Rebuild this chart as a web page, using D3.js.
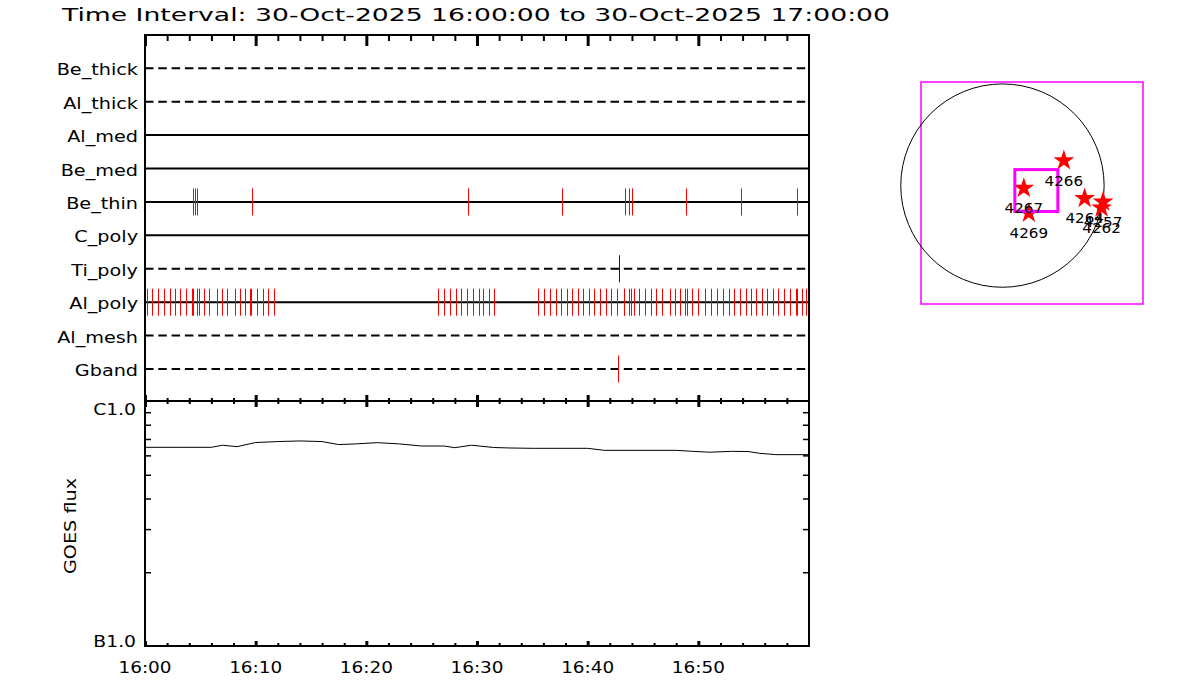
<!DOCTYPE html>
<html>
<head>
<meta charset="utf-8">
<script src="https://d3js.org/d3.v7.min.js"></script>
<style>
  body { margin: 0; background: #fff; }
  text { font-family: "DejaVu Sans", sans-serif; fill: #000; }
</style>
</head>
<body>
<div class="wrapper"></div>
<script>
// ---- data ----
var title = "Time Interval: 30-Oct-2025 16:00:00 to 30-Oct-2025 17:00:00";

var rows = ["Be_thick", "Al_thick", "Al_med", "Be_med", "Be_thin",
            "C_poly", "Ti_poly", "Al_poly", "Al_mesh", "Gband"];
var dashedRows = ["Be_thick", "Al_thick", "Ti_poly", "Al_mesh", "Gband"];

// event times in minutes after 16:00
var beThinTimes = [4.36, 4.54, 4.72, 9.69, 29.2, 37.7, 43.39, 43.75, 44.02, 48.9, 53.87, 58.93];
var tiPolyTimes = [42.85];
var gbandTimes = [42.76];
var alPolyTimes = [0.21, 0.66, 1.20, 1.72, 2.23, 2.74, 3.19, 3.73, 4.22, 4.34, 4.67, 4.91,
                   5.36, 5.81, 6.53, 6.98, 7.44, 8.16, 8.61, 9.06, 9.52, 9.61, 10.15, 10.64,
                   11.14, 11.68,
                   26.50, 27.02, 27.59, 28.13, 28.58, 29.12, 29.67, 30.14, 30.57, 31.08, 31.56,
                   35.54, 36.08, 36.62, 37.17, 37.62, 38.16, 38.61, 39.15, 39.61, 40.09, 40.60,
                   41.14, 41.63, 42.14, 42.62, 43.26, 43.31, 43.76, 43.92, 44.21, 44.67, 45.21,
                   45.75, 46.20, 46.74, 47.47, 47.92, 48.37, 48.82, 48.95, 49.45, 49.99, 50.63,
                   51.17, 51.71, 52.26, 52.80, 53.25, 53.79, 54.33, 54.79, 55.24, 55.78, 56.23,
                   56.77, 57.23, 57.77, 58.31, 58.80, 58.89, 59.34, 59.76];

// GOES flux (W/m^2)
var goesMinutes = [0, 3, 6, 7, 8.3, 10, 12, 14, 16, 17.5, 19, 21, 23, 25, 27, 28, 29.5,
                   31.5, 33, 35, 40, 41.5, 48, 49.5, 51, 53, 54.5, 55.5, 57, 60];
var goesFlux = [6.47e-7, 6.47e-7, 6.47e-7, 6.60e-7, 6.51e-7, 6.77e-7, 6.83e-7, 6.87e-7,
                6.83e-7, 6.64e-7, 6.68e-7, 6.76e-7, 6.68e-7, 6.55e-7, 6.55e-7, 6.45e-7,
                6.60e-7, 6.46e-7, 6.43e-7, 6.41e-7, 6.41e-7, 6.29e-7, 6.29e-7, 6.23e-7,
                6.18e-7, 6.23e-7, 6.22e-7, 6.12e-7, 6.04e-7, 6.04e-7];
var goesLabels = ["B1.0", "C1.0"];
var goesLevels = [1e-7, 1e-6];

// active regions, arcsec from disk centre
var regionNames = ["4266", "4267", "4269", "4264", "4257", "4262"];
var regionX = [580, 202, 249, 776, 950, 936];
var regionY = [236, -25, -260, -121, -154, -210];
var sunRadius = 960;
var fovX = [-769, 1327], fovY = [-1118, 978];
var boxX = [117, 523], boxY = [-245, 151];

// ---- layout ----
var plotLeft = 145, plotRight = 809, plotTop = 35, plotMid = 401, plotBottom = 646;
var stretch = 1.2;

var svg = d3.select(".wrapper")
  .append("svg")
    .attr("width", 1200)
    .attr("height", 700);

var t0 = new Date(Date.UTC(2025, 9, 30, 16, 0, 0)),
    t1 = new Date(Date.UTC(2025, 9, 30, 17, 0, 0));
function toTime(m) { return new Date(t0.getTime() + m * 60000); }

var x = d3.scaleUtc().domain([t0, t1]).range([plotLeft, plotRight]);
var y = d3.scalePoint().domain(rows).range([68.3, 369]);
var yFlux = d3.scaleLog().domain([1e-7, 1e-6]).range([plotBottom, plotMid]);

function fit(sel, k) {
  sel.each(function() {
    var w = this.getComputedTextLength();
    d3.select(this).attr("textLength", w * k).attr("lengthAdjust", "spacingAndGlyphs");
  });
}

// title
svg.append("text")
    .attr("x", 62).attr("y", 21)
    .style("font-size", "18px")
    .attr("textLength", 828)
    .attr("lengthAdjust", "spacingAndGlyphs")
    .text(title);

// row base lines
svg.append("g").selectAll("line")
  .data(rows)
  .enter().append("line")
    .attr("x1", plotLeft).attr("x2", plotRight)
    .attr("y1", function(d) { return y(d); })
    .attr("y2", function(d) { return y(d); })
    .attr("stroke", "#000")
    .attr("stroke-width", 2)
    .attr("stroke-dasharray", function(d) { return dashedRows.indexOf(d) >= 0 ? "8.5,4.8" : null; });

// row labels
svg.append("g").selectAll("text")
  .data(rows)
  .enter().append("text")
    .attr("x", 138)
    .attr("y", function(d) { return y(d) + 7; })
    .attr("text-anchor", "end")
    .style("font-size", "16px")
    .text(function(d) { return d; })
    .call(fit, stretch);

// event markers
var events = [
  {row: "Be_thin", times: beThinTimes, color: "#ff0000"},
  {row: "Ti_poly", times: tiPolyTimes, color: "#0000ff"},
  {row: "Al_poly", times: alPolyTimes, color: "#ff0000"},
  {row: "Gband", times: gbandTimes, color: "#ff0000"}
];
events.forEach(function(ev) {
  svg.append("g").selectAll("line")
    .data(ev.times)
    .enter().append("line")
      .attr("x1", function(d) { return Math.round(x(toTime(d))) + 0.5; })
      .attr("x2", function(d) { return Math.round(x(toTime(d))) + 0.5; })
      .attr("y1", y(ev.row) - 13.5)
      .attr("y2", y(ev.row) + 13.5)
      .attr("stroke", ev.color)
      .attr("stroke-width", 1);
});

// GOES curve
var goes = goesMinutes.map(function(m, i) { return {t: toTime(m), v: goesFlux[i]}; });
svg.append("path")
    .datum(goes)
    .attr("fill", "none")
    .attr("stroke", "#000")
    .attr("stroke-width", 1)
    .attr("d", d3.line()
      .x(function(d) { return x(d.t); })
      .y(function(d) { return yFlux(d.v); }));

// frame
var frame = svg.append("g").attr("stroke", "#000").attr("stroke-width", 2).attr("fill", "none");
frame.append("rect")
    .attr("x", plotLeft).attr("y", plotTop)
    .attr("width", plotRight - plotLeft).attr("height", plotBottom - plotTop);
frame.append("line")
    .attr("x1", plotLeft).attr("x2", plotRight)
    .attr("y1", plotMid).attr("y2", plotMid);

// time ticks
var major = d3.utcMinute.every(10).range(t0, t1);
var minor = d3.utcMinute.every(2).range(t0, t1).filter(function(d) { return d.getUTCMinutes() % 10 != 0; });

function timeTicks(axis, ypos, values, size, width) {
  svg.append("g")
      .attr("transform", "translate(0," + ypos + ")")
      .call(axis(x).tickValues(values).tickSize(size).tickSizeOuter(0).tickFormat(""))
      .call(function(g) { g.select(".domain").remove(); })
      .selectAll("line").attr("stroke", "#000").attr("stroke-width", width);
}
timeTicks(d3.axisBottom, plotTop, major, 11, 3);
timeTicks(d3.axisBottom, plotTop, minor, 6, 2);
timeTicks(d3.axisBottom, plotMid, major, 6, 3);
timeTicks(d3.axisTop, plotMid, major, 6, 3);
timeTicks(d3.axisBottom, plotMid, minor, 3, 2);
timeTicks(d3.axisTop, plotMid, minor, 3, 2);
timeTicks(d3.axisTop, plotBottom, major, 5, 3);
timeTicks(d3.axisTop, plotBottom, minor, 3, 2);

// time labels
svg.append("g").selectAll("text")
  .data(major)
  .enter().append("text")
    .attr("x", function(d) { return x(d); })
    .attr("y", plotBottom + 27)
    .attr("text-anchor", "middle")
    .style("font-size", "16px")
    .text(d3.utcFormat("%H:%M"))
    .call(fit, 1.15);

// flux minor ticks, left and right
var fluxMinor = yFlux.ticks().filter(function(d) { return goesLevels.indexOf(d) < 0; });
[[d3.axisRight, plotLeft], [d3.axisLeft, plotRight]].forEach(function(a) {
  svg.append("g")
      .attr("transform", "translate(" + a[1] + ",0)")
      .call(a[0](yFlux).tickValues(fluxMinor).tickSize(6).tickSizeOuter(0).tickFormat(""))
      .call(function(g) { g.select(".domain").remove(); })
      .selectAll("line").attr("stroke", "#000").attr("stroke-width", 1.5);
});

svg.append("g").selectAll("text")
  .data(goesLevels)
  .enter().append("text")
    .attr("x", 136)
    .attr("y", function(d, i) { return yFlux(d) + (i == 0 ? 1 : 14); })
    .attr("text-anchor", "end")
    .style("font-size", "16px")
    .text(function(d, i) { return goesLabels[i]; })
    .call(fit, 1.17);

svg.append("text")
    .attr("transform", "translate(76,526) rotate(-90)")
    .attr("text-anchor", "middle")
    .style("font-size", "16px")
    .text("GOES flux")
    .call(fit, stretch);

// ---- solar disk panel ----
var sx = d3.scaleLinear().domain(fovX).range([921, 1143]);
var sy = d3.scaleLinear().domain(fovY).range([304, 82]);

svg.append("rect")
    .attr("x", sx(fovX[0])).attr("y", sy(fovY[1]))
    .attr("width", sx(fovX[1]) - sx(fovX[0]))
    .attr("height", sy(fovY[0]) - sy(fovY[1]))
    .attr("fill", "none").attr("stroke", "#ff00ff").attr("stroke-width", 1.5);

svg.append("circle")
    .attr("cx", sx(0)).attr("cy", sy(0))
    .attr("r", sx(sunRadius) - sx(0))
    .attr("fill", "none").attr("stroke", "#000").attr("stroke-width", 1);

var star = d3.symbol().type(d3.symbolStar).size(135);
svg.append("g").selectAll("path")
  .data(regionNames)
  .enter().append("path")
    .attr("transform", function(d, i) { return "translate(" + sx(regionX[i]) + "," + sy(regionY[i]) + ")"; })
    .attr("d", star)
    .attr("fill", "#ff0000");

svg.append("rect")
    .attr("x", sx(boxX[0])).attr("y", sy(boxY[1]))
    .attr("width", sx(boxX[1]) - sx(boxX[0]))
    .attr("height", sy(boxY[0]) - sy(boxY[1]))
    .attr("fill", "none").attr("stroke", "#ff00ff").attr("stroke-width", 3);

svg.append("g").selectAll("text")
  .data(regionNames)
  .enter().append("text")
    .attr("x", function(d, i) { return sx(regionX[i]); })
    .attr("y", function(d, i) { return sy(regionY[i]) + 25; })
    .attr("text-anchor", "middle")
    .style("font-size", "14px")
    .text(function(d) { return d; })
    .call(fit, 1.08);
</script>
</body>
</html>
